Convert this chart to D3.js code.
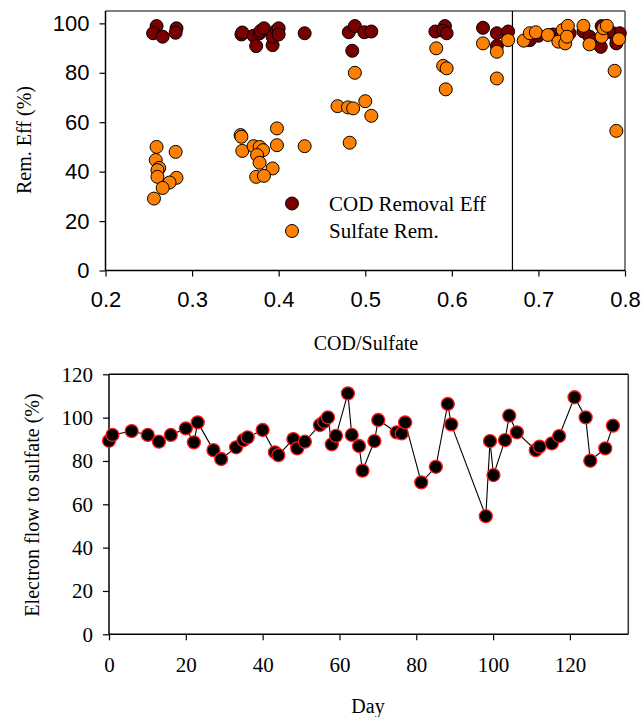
<!DOCTYPE html>
<html><head><meta charset="utf-8">
<script src="https://cdn.jsdelivr.net/npm/d3@7"></script>
<style>body{margin:0;background:#fff}svg{display:block}</style>
</head><body>
<svg id="c" width="642" height="717"></svg>
<script>
// Top chart data
const codX = [0.259,0.255,0.266,0.282,0.281,0.357,0.358,0.371,0.374,0.378,0.379,0.383,0.393,0.393,0.398,0.400,0.400,0.430,0.481,0.488,0.485,0.499,0.507,0.581,0.592,0.590,0.594,0.636,0.652,0.665,0.652,0.690,0.700,0.717,0.725,0.733,0.736,0.752,0.759,0.765,0.773,0.772,0.786,0.790,0.794,0.781];
const codY = [98.9,96,94.6,98,96.2,95.5,96.3,95,90.8,96,96.9,98,91.2,94.6,97.3,98,95.5,96,96.4,98.9,88.9,96.4,96.7,96.7,98.9,97,96,98.2,96,96.7,90.8,93.2,95,95.5,94,96.7,96,96.7,94.6,93,98.9,90.5,96,91.9,96,96.7];
const sulX = [0.259,0.281,0.258,0.262,0.260,0.260,0.282,0.274,0.266,0.256,0.356,0.357,0.358,0.371,0.378,0.382,0.375,0.378,0.393,0.374,0.383,0.398,0.398,0.430,0.468,0.480,0.486,0.500,0.507,0.482,0.488,0.582,0.590,0.594,0.593,0.636,0.652,0.665,0.652,0.683,0.690,0.697,0.711,0.728,0.734,0.723,0.731,0.733,0.752,0.759,0.773,0.775,0.779,0.793,0.788,0.790];
const sulY = [50,48,44.7,41.5,40.6,37.9,37.5,35.6,33.4,29.1,54.8,54.1,48.4,50.3,50,48.7,46.7,43.6,41.3,37.9,38.3,57.5,50.7,50.3,66.5,66,65.6,68.5,62.6,51.7,80,89.9,82.8,81.8,73.3,91.9,88.5,93.2,77.7,93,96,96.4,95.3,97.3,99,92.6,91.9,94.6,99,91.5,94.6,98,99,93.6,80.8,56.5];
const topXTicks = [0.2,0.3,0.4,0.5,0.6,0.7,0.8];
const topYTicks = [0,20,40,60,80,100];
const dividerX = 0.67;
const legendLabels = ["COD Removal Eff","Sulfate Rem."];

// Bottom chart data
const days = [0,0.9,5.9,10.1,13,16.1,20,22.1,23.1,27.2,29.2,33.1,35,36.1,40,43.2,44.1,48,49,51,54.9,56,57,58,59.1,62.2,63.2,65.1,66,69.1,70.1,74.9,76.2,77.1,81.3,85.1,88.2,89.1,98.1,99.2,100.1,103.1,104.2,106.2,111.1,112.1,115.3,117.2,121.2,124.1,125.3,129.2,131.2];
const eflow = [89.3,92,93.8,92,88.9,92,95,88.6,97.8,85,80.9,86.3,89.6,90.9,94.3,84,82.7,90.1,85.8,88.9,96.6,98.1,100.1,87.7,91.6,111.2,92,86.9,75.5,89.2,98.9,93.2,92.7,97.8,70.1,77.3,106.3,96.9,54.5,89.2,73.5,89.6,100.9,93.2,85,86.6,88.1,91.5,109.4,100.1,80.1,85.8,96.3];
const botXTicks = [0,20,40,60,80,100,120];
const botYTicks = [0,20,40,60,80,100,120];

const svg = d3.select("#c");
const serif = "'Liberation Serif','Times New Roman',serif";
const sans = "'Liberation Sans',Arial,sans-serif";

// ---------- Top chart ----------
const t = {l:105.5, r:625, t:11, b:270.5};
const xT = d3.scaleLinear().domain([0.2,0.8]).range([t.l,t.r]);
const yT = d3.scaleLinear().domain([0,105]).range([t.b,t.t]);
const gT = svg.append("g");

gT.append("line").attr("x1",t.l).attr("x2",t.r).attr("y1",t.t).attr("y2",t.t).attr("stroke","#555").attr("stroke-width",1.5);
gT.append("line").attr("x1",t.r).attr("x2",t.r).attr("y1",t.t).attr("y2",t.b).attr("stroke","#555").attr("stroke-width",1.5);
gT.append("line").attr("x1",xT(dividerX)).attr("x2",xT(dividerX)).attr("y1",t.t).attr("y2",t.b).attr("stroke","#000").attr("stroke-width",1.2);

const axXT = gT.append("g").attr("transform",`translate(0,${t.b})`)
  .call(d3.axisBottom(xT).tickValues(topXTicks).tickFormat(d3.format(".1f")).tickSizeOuter(0).tickSize(6).tickPadding(15));
const axYT = gT.append("g").attr("transform",`translate(${t.l},0)`)
  .call(d3.axisLeft(yT).tickValues(topYTicks).tickSizeOuter(0).tickSize(6).tickPadding(10));
[axXT,axYT].forEach(a=>{
  a.select(".domain").attr("stroke","#000").attr("stroke-width",1.5).attr("d", a===axXT ? `M${t.l},0H${t.r}` : `M0,${t.b}V${t.t}`);
  a.selectAll(".tick line").attr("stroke","#000").attr("stroke-width",1.2);
  a.selectAll("text").attr("font-family",sans).attr("font-size",22).attr("fill","#000");
});

gT.append("g").selectAll("circle").data(codX).join("circle")
  .attr("cx",(d)=>xT(d)).attr("cy",(d,i)=>yT(codY[i])).attr("r",6.5)
  .attr("fill","#7a0000").attr("stroke","#000").attr("stroke-width",1);
gT.append("g").selectAll("circle").data(sulX).join("circle")
  .attr("cx",(d)=>xT(d)).attr("cy",(d,i)=>yT(sulY[i])).attr("r",6.5)
  .attr("fill","#ff8000").attr("stroke","#000").attr("stroke-width",1);

const legColors = ["#7a0000","#ff8000"];
legendLabels.forEach((lab,i)=>{
  const y = 203.5 + i*27.5;
  gT.append("circle").attr("cx",292).attr("cy",y).attr("r",6.5).attr("fill",legColors[i]).attr("stroke","#000");
  gT.append("text").attr("x",329).attr("y",y+7).attr("font-family",serif).attr("font-size",21).text(lab);
});

gT.append("text").attr("transform","translate(31,140) rotate(-90)").attr("text-anchor","middle")
  .attr("font-family",serif).attr("font-size",20).text("Rem. Eff (%)");
gT.append("text").attr("x",366).attr("y",350).attr("text-anchor","middle")
  .attr("font-family",serif).attr("font-size",20).text("COD/Sulfate");

// ---------- Bottom chart ----------
const b = {l:109, r:628.3, t:374.3, b:634.3};
const xB = d3.scaleLinear().domain([0,135.2]).range([b.l,b.r]);
const yB = d3.scaleLinear().domain([0,120]).range([b.b,b.t]);
const gB = svg.append("g");

gB.append("line").attr("x1",b.l).attr("x2",b.r).attr("y1",b.t).attr("y2",b.t).attr("stroke","#000").attr("stroke-width",1.5);
gB.append("line").attr("x1",b.r).attr("x2",b.r).attr("y1",b.t).attr("y2",b.b).attr("stroke","#333").attr("stroke-width",1.5);

const axXB = gB.append("g").attr("transform",`translate(0,${b.b})`)
  .call(d3.axisBottom(xB).tickValues(botXTicks).tickSizeOuter(0).tickSize(6).tickPadding(17));
const axYB = gB.append("g").attr("transform",`translate(${b.l},0)`)
  .call(d3.axisLeft(yB).tickValues(botYTicks).tickSizeOuter(0).tickSize(6).tickPadding(10));
[axXB,axYB].forEach(a=>{
  a.select(".domain").attr("stroke","#000").attr("stroke-width",1.5).attr("d", a===axXB ? `M${b.l},0H${b.r}` : `M0,${b.b}V${b.t}`);
  a.selectAll(".tick line").attr("stroke","#000").attr("stroke-width",1.2);
  a.selectAll("text").attr("font-family",serif).attr("font-size",21).attr("fill","#000");
});

const line = d3.line().x((d)=>xB(d)).y((d,i)=>yB(eflow[i]));
gB.append("path").datum(days).attr("d",line).attr("fill","none").attr("stroke","#000").attr("stroke-width",1.1);
gB.append("g").selectAll("circle").data(days).join("circle")
  .attr("cx",(d)=>xB(d)).attr("cy",(d,i)=>yB(eflow[i])).attr("r",6.5)
  .attr("fill","#000").attr("stroke","#ff1a1a").attr("stroke-width",1.3);

gB.append("text").attr("transform","translate(39,505) rotate(-90)").attr("text-anchor","middle")
  .attr("font-family",serif).attr("font-size",20).text("Electron flow to sulfate (%)");
gB.append("text").attr("x",368).attr("y",713).attr("text-anchor","middle")
  .attr("font-family",serif).attr("font-size",20).text("Day");
</script>
</body></html>
